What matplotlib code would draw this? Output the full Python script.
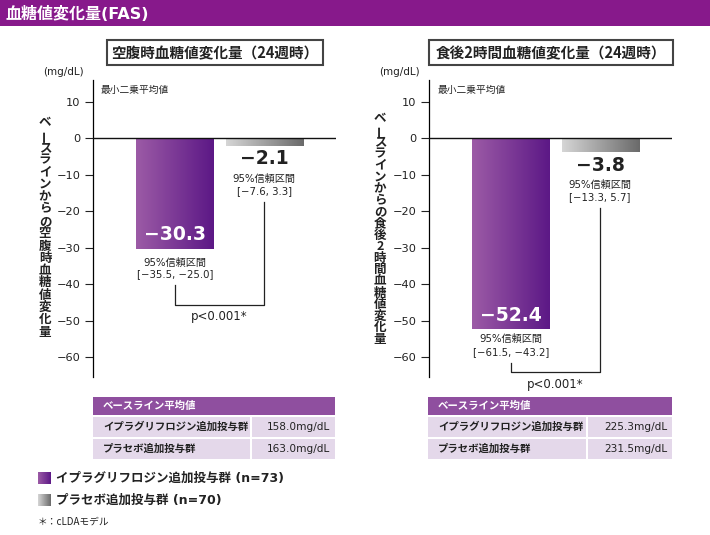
import numpy as np
import matplotlib.pyplot as plt
from matplotlib.patches import Rectangle
from matplotlib.colors import LinearSegmentedColormap

plt.rcParams['font.family'] = ['DejaVu Sans', 'Noto Sans CJK JP']

# data
groups = ['イプラグリフロジン追加投与群', 'プラセボ追加投与群']
n_sizes = [73, 70]
titles = ['空腹時血糖値変化量（24週時）', '食後2時間血糖値変化量（24週時）']
ylabels = ['ベースラインからの空腹時血糖値変化量', 'ベースラインからの食後2時間血糖値変化量']
fpg_change = [-30.3, -2.1]
ppg_change = [-52.4, -3.8]
fpg_ci = [(-35.5, -25.0), (-7.6, 3.3)]
ppg_ci = [(-61.5, -43.2), (-13.3, 5.7)]
fpg_baseline = [158.0, 163.0]
ppg_baseline = [225.3, 231.5]
p_label = 'p<0.001*'
yticks = [10, 0, -10, -20, -30, -40, -50, -60]

purple_cm = LinearSegmentedColormap.from_list('pur', ['#9c5ba6', '#5c1886'])
gray_cm = LinearSegmentedColormap.from_list('gry', ['#d6d6d6', '#6a6a6a'])
cmaps = [purple_cm, gray_cm]
grad = np.linspace(0, 1, 256).reshape(1, -1)
jp = ['Noto Sans CJK JP', 'DejaVu Sans']

fig = plt.figure(figsize=(7.1, 5.35), dpi=100)

# overlay in pixel coordinates for layout items
lay = fig.add_axes([0, 0, 1, 1])
lay.set_xlim(0, 710)
lay.set_ylim(535, 0)
lay.axis('off')
lay.patch.set_visible(False)

lay.add_patch(Rectangle((0, 0), 710, 26, color='#87198b', lw=0))
lay.text(5, 13.5, '血糖値変化量(FAS)', color='white', fontsize=11.5, weight='bold', va='center')

ylo, yhi = -65.5, 16
pxu = (yhi - ylo) / 297.0  # data units per pixel


def fmt(v):
    return f'{v:.1f}'.replace('-', '−')


def vtext(x, y0, s, step):
    for i, ch in enumerate(s):
        rot = 90 if ch == 'ー' else 0
        lay.text(x, y0 + i * step, ch, rotation=rot, ha='center', va='center',
                 fontsize=9, weight='bold', color='#222222', family=jp)


def draw_chart(left_px, values, cis, bracket_y, pcfg):
    ax = fig.add_axes([left_px / 710, 1 - 377 / 535, 243 / 710, 297 / 535])
    ax.patch.set_visible(False)
    x = np.arange(len(values))
    bars = ax.bar(x, values, width=0.865, color='none', zorder=1)
    for bar, cm in zip(bars, cmaps):
        x0, w = bar.get_x(), bar.get_width()
        y0, h = bar.get_y(), bar.get_height()
        ax.imshow(grad, cmap=cm, extent=(x0, x0 + w, min(y0, y0 + h), max(y0, y0 + h)),
                  aspect='auto', zorder=2)
    ax.axhline(0, color='#111111', lw=1.0, zorder=3)
    ax.set_xlim(-0.916, 1.803)
    ax.set_ylim(ylo, yhi)
    ax.set_yticks(yticks)
    ax.set_xticks([])
    for s in ['top', 'right', 'bottom']:
        ax.spines[s].set_visible(False)
    ax.spines['left'].set_linewidth(0.9)
    ax.tick_params(axis='y', length=6, width=0.8, labelsize=8.2, colors='#222222', pad=3)

    va, vp = values
    ax.text(0, va + 14 * pxu, fmt(va), color='white', fontsize=13.5,
            weight='bold', ha='center', va='center', zorder=4)
    ax.text(1, vp - 13 * pxu, fmt(vp), color='#222222', fontsize=13.5,
            weight='bold', ha='center', va='center', zorder=4)
    off = [(0, va, pcfg['ci_a']), (1, vp, (33, 45))]
    for i, v, (o1, o2) in off:
        lo, hi = cis[i]
        ax.text(i, v - o1 * pxu, '95%信頼区間', fontsize=7.3, ha='center', va='center', color='#222222')
        ax.text(i, v - o2 * pxu, f'[{fmt(lo)}, {fmt(hi)}]', fontsize=7.3,
                ha='center', va='center', color='#222222')
    # bracket
    ya = va - pcfg['leg_a'] * pxu
    yp = vp - 56 * pxu
    ax.plot([0, 0, 1, 1], [ya, bracket_y, bracket_y, yp], color='#222222', lw=0.9, clip_on=False)
    ax.text(0.5, bracket_y - pcfg['p_off'] * pxu, p_label, fontsize=8.5, ha='center', va='center',
            color='#222222', clip_on=False)
    return ax


draw_chart(93, fpg_change, fpg_ci, -45.7, {'ci_a': (14, 25), 'leg_a': 36, 'p_off': 12})
draw_chart(429, ppg_change, ppg_ci, -64.1, {'ci_a': (10, 23), 'leg_a': 34, 'p_off': 13})

# chart titles, units
for (x0, x1), t in zip([(107, 323), (429, 673)], titles):
    lay.add_patch(Rectangle((x0, 40), x1 - x0, 25, fill=False, ec='#444444', lw=1.5))
    lay.text((x0 + x1) / 2, 53, t, fontsize=10.5, weight='bold', ha='center', va='center',
             color='#222222', family=jp)
for xc in [63, 399]:
    lay.text(xc, 72, '(mg/dL)', fontsize=7.5, ha='center', va='center', color='#222222')
for xl in [101, 438]:
    lay.text(xl, 90, '最小二乗平均値', fontsize=7, ha='left', va='center', color='#222222', family=jp)

vtext(45, 123, ylabels[0], 12.3)
vtext(380, 119, ylabels[1], 11.6)

# baseline tables
for (x0, xd, x1), base in zip([(93, 251, 335), (428, 587, 672)], [fpg_baseline, ppg_baseline]):
    lay.add_patch(Rectangle((x0, 397), x1 - x0, 18, color='#8f4f9f', lw=0))
    lay.text(x0 + 10, 406, 'ベースライン平均値', color='white', fontsize=7.5, weight='bold',
             va='center', family=jp)
    for r, (g, b) in enumerate(zip(groups, base)):
        yt = 417 + r * 22
        lay.add_patch(Rectangle((x0, yt), xd - x0 - 1, 20, color='#e4d8ea', lw=0))
        lay.add_patch(Rectangle((xd + 1, yt), x1 - xd - 1, 20, color='#e4d8ea', lw=0))
        lay.text(x0 + 10, yt + 10, g, fontsize=7.5, weight='bold', va='center', color='#222222', family=jp)
        lay.text(x1 - 5, yt + 10, f'{b:.1f}mg/dL', fontsize=7.6, ha='right', va='center', color='#222222')

# legend
for i, (g, n, cm) in enumerate(zip(groups, n_sizes, cmaps)):
    yc = 478.5 + i * 21.5
    lay.imshow(grad, cmap=cm, extent=(38, 51, yc + 6, yc - 6), aspect='auto')
    lay.text(56, yc, f'{g} (n={n})', fontsize=9, weight='bold', va='center', color='#222222')
lay.set_xlim(0, 710)
lay.set_ylim(535, 0)
lay.text(38, 522, '＊：cLDAモデル', fontsize=7, va='center', color='#222222', family=jp)

fig.savefig('out.png', dpi=100)
